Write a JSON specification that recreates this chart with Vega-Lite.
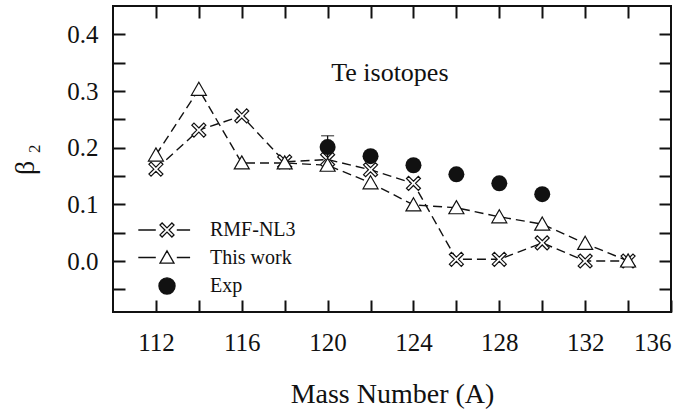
{
  "$schema": "https://vega.github.io/schema/vega-lite/v6.json",
  "width": 558,
  "height": 306,
  "autosize": {"type": "none"},
  "padding": {"left": 113, "top": 6, "right": 22, "bottom": 99},
  "background": "white",
  "config": {
    "view": {"stroke": "#111", "strokeWidth": 2},
    "font": "Liberation Serif",
    "axis": {
      "domain": false,
      "grid": false,
      "tickColor": "#111",
      "tickWidth": 2,
      "tickSize": -12,
      "labelFont": "Liberation Serif",
      "labelFontSize": 25,
      "labelColor": "#111",
      "titleFont": "Liberation Serif",
      "titleFontWeight": "normal",
      "titleColor": "#111"
    }
  },
  "datasets": {
    "beta": [
      {"series": "RMF-NL3", "A": 112, "b": 0.162},
      {"series": "RMF-NL3", "A": 114, "b": 0.231},
      {"series": "RMF-NL3", "A": 116, "b": 0.256},
      {"series": "RMF-NL3", "A": 118, "b": 0.175},
      {"series": "RMF-NL3", "A": 120, "b": 0.179},
      {"series": "RMF-NL3", "A": 122, "b": 0.161},
      {"series": "RMF-NL3", "A": 124, "b": 0.137},
      {"series": "RMF-NL3", "A": 126, "b": 0.003},
      {"series": "RMF-NL3", "A": 128, "b": 0.003},
      {"series": "RMF-NL3", "A": 130, "b": 0.032},
      {"series": "RMF-NL3", "A": 132, "b": 0.0},
      {"series": "RMF-NL3", "A": 134, "b": 0.0},
      {"series": "This work", "A": 112, "b": 0.187},
      {"series": "This work", "A": 114, "b": 0.303},
      {"series": "This work", "A": 116, "b": 0.173},
      {"series": "This work", "A": 118, "b": 0.173},
      {"series": "This work", "A": 120, "b": 0.169},
      {"series": "This work", "A": 122, "b": 0.138},
      {"series": "This work", "A": 124, "b": 0.099},
      {"series": "This work", "A": 126, "b": 0.094},
      {"series": "This work", "A": 128, "b": 0.078},
      {"series": "This work", "A": 130, "b": 0.065},
      {"series": "This work", "A": 132, "b": 0.031},
      {"series": "This work", "A": 134, "b": 0.0},
      {"series": "Exp", "A": 120, "b": 0.201},
      {"series": "Exp", "A": 122, "b": 0.185},
      {"series": "Exp", "A": 124, "b": 0.169},
      {"series": "Exp", "A": 126, "b": 0.153},
      {"series": "Exp", "A": 128, "b": 0.137},
      {"series": "Exp", "A": 130, "b": 0.118}
    ],
    "err": [
      {"A": 120, "lo": 0.182, "hi": 0.221}
    ],
    "label": [
      {"A": 122.9, "b": 0.332, "text": "Te isotopes"}
    ]
  },
  "resolve": {"axis": {"x": "independent", "y": "independent"}},
  "layer": [
    {
      "data": {"name": "beta"},
      "transform": [{"filter": "datum.series !== 'Exp'"}],
      "mark": {"type": "line", "color": "#111", "strokeWidth": 1.4, "strokeDash": [9, 5]},
      "encoding": {
        "x": {
          "field": "A", "type": "quantitative",
          "scale": {"domain": [110, 136], "nice": false, "zero": false},
          "axis": {
            "orient": "bottom",
            "values": [112, 114, 116, 118, 120, 122, 124, 126, 128, 130, 132, 134, 136],
            "labelExpr": "datum.value % 4 === 0 ? datum.label : ''",
            "labelPadding": 30,
            "title": "Mass Number (A)",
            "titleFontSize": 28,
            "titlePadding": 25
          }
        },
        "y": {
          "field": "b", "type": "quantitative",
          "scale": {"domain": [-0.09, 0.45], "nice": false, "zero": false},
          "axis": {
            "orient": "left",
            "values": [-0.05, 0, 0.05, 0.1, 0.15, 0.2, 0.25, 0.3, 0.35, 0.4],
            "labelExpr": "abs(round(datum.value * 20)) % 2 === 0 ? format(datum.value, '.1f') : ''",
            "labelPadding": 27,
            "title": "β ₂",
            "titleFontSize": 28,
            "titlePadding": 27
          }
        },
        "detail": {"field": "series"}
      }
    },
    {
      "data": {"name": "beta"},
      "transform": [{"filter": "datum.series === 'RMF-NL3'"}],
      "mark": {
        "type": "point", "filled": true, "fill": "white", "stroke": "#111", "strokeWidth": 1.2, "opacity": 1, "size": 196,
        "shape": "M0,-0.3L0.7,-1L1,-0.7L0.3,0L1,0.7L0.7,1L0,0.3L-0.7,1L-1,0.7L-0.3,0L-1,-0.7L-0.7,-1Z"
      },
      "encoding": {
        "x": {"field": "A", "type": "quantitative", "axis": null},
        "y": {"field": "b", "type": "quantitative", "axis": null}
      }
    },
    {
      "data": {"name": "beta"},
      "transform": [{"filter": "datum.series === 'This work'"}],
      "mark": {
        "type": "point", "filled": true, "fill": "white", "stroke": "#111", "strokeWidth": 1.2, "opacity": 1, "size": 225,
        "shape": "M0,-0.95L1,0.8L-1,0.8Z"
      },
      "encoding": {
        "x": {"field": "A", "type": "quantitative", "axis": null},
        "y": {"field": "b", "type": "quantitative", "axis": null}
      }
    },
    {
      "data": {"name": "err"},
      "mark": {"type": "rule", "color": "#111", "strokeWidth": 1.3},
      "encoding": {
        "x": {"field": "A", "type": "quantitative", "axis": null},
        "y": {"field": "lo", "type": "quantitative", "axis": null},
        "y2": {"field": "hi"}
      }
    },
    {
      "data": {"name": "err"},
      "mark": {"type": "tick", "color": "#111", "thickness": 1.3, "size": 13, "orient": "horizontal"},
      "encoding": {
        "x": {"field": "A", "type": "quantitative", "axis": null},
        "y": {"field": "hi", "type": "quantitative", "axis": null}
      }
    },
    {
      "data": {"name": "beta"},
      "transform": [{"filter": "datum.series === 'Exp'"}],
      "mark": {"type": "point", "shape": "circle", "filled": true, "color": "#111", "opacity": 1, "size": 256},
      "encoding": {
        "x": {"field": "A", "type": "quantitative", "axis": null},
        "y": {"field": "b", "type": "quantitative", "axis": null}
      }
    },
    {
      "data": {"name": "label"},
      "mark": {"type": "text", "font": "Liberation Serif", "fontSize": 26, "color": "#111", "align": "center", "baseline": "middle"},
      "encoding": {
        "x": {"field": "A", "type": "quantitative", "axis": null},
        "y": {"field": "b", "type": "quantitative", "axis": null},
        "text": {"field": "text"}
      }
    },
    {
      "data": {"name": "beta"},
      "mark": {"type": "point", "opacity": 0, "filled": true, "stroke": "#111", "strokeWidth": 1.2},
      "encoding": {
        "x": {
          "field": "A", "type": "quantitative",
          "axis": {
            "orient": "top",
            "values": [112, 114, 116, 118, 120, 122, 124, 126, 128, 130, 132, 134],
            "labels": false,
            "title": null
          }
        },
        "y": {
          "field": "b", "type": "quantitative",
          "axis": {
            "orient": "right",
            "values": [-0.05, 0, 0.05, 0.1, 0.15, 0.2, 0.25, 0.3, 0.35, 0.4],
            "labels": false,
            "title": null
          }
        },
        "shape": {
          "field": "series", "type": "nominal",
          "scale": {
            "domain": ["RMF-NL3", "This work", "Exp"],
            "range": [
              "M-4.1,0H-1.6M1.4,0H3.3M0,-0.3L0.7,-1L1,-0.7L0.3,0L1,0.7L0.7,1L0,0.3L-0.7,1L-1,0.7L-0.3,0L-1,-0.7L-0.7,-1Z",
              "M-4.1,0H-1.6M1.4,0H3.3M0,-0.95L1,0.8L-1,0.8Z",
              "M-1.15,0A1.15,1.15 0 1,0 1.15,0A1.15,1.15 0 1,0 -1.15,0Z"
            ]
          },
          "legend": {
            "orient": "none",
            "legendX": 44,
            "legendY": 214,
            "title": null,
            "padding": 0,
            "symbolSize": 196,
            "symbolOpacity": 1,
            "symbolStrokeColor": "#111",
            "symbolStrokeWidth": 1.2,
            "labelFont": "Liberation Serif",
            "labelFontSize": 20,
            "labelColor": "#111",
            "labelOffset": 33,
            "rowPadding": 7.5,
            "encode": {
              "symbols": {
                "update": {
                  "stroke": {"value": "#111"},
                  "strokeWidth": {"value": 1.3},
                  "opacity": {"value": 1},
                  "strokeOpacity": {"value": 1}
                }
              }
            }
          }
        },
        "fill": {
          "field": "series", "type": "nominal",
          "scale": {"domain": ["RMF-NL3", "This work", "Exp"], "range": ["white", "white", "#111"]},
          "legend": {
            "orient": "none",
            "legendX": 44,
            "legendY": 214,
            "title": null,
            "padding": 0,
            "symbolSize": 196,
            "symbolOpacity": 1,
            "symbolStrokeColor": "#111",
            "symbolStrokeWidth": 1.2,
            "labelFont": "Liberation Serif",
            "labelFontSize": 20,
            "labelColor": "#111",
            "labelOffset": 33,
            "rowPadding": 7.5,
            "encode": {
              "symbols": {
                "update": {
                  "stroke": {"value": "#111"},
                  "strokeWidth": {"value": 1.3},
                  "opacity": {"value": 1},
                  "strokeOpacity": {"value": 1}
                }
              }
            }
          }
        }
      }
    }
  ]
}
